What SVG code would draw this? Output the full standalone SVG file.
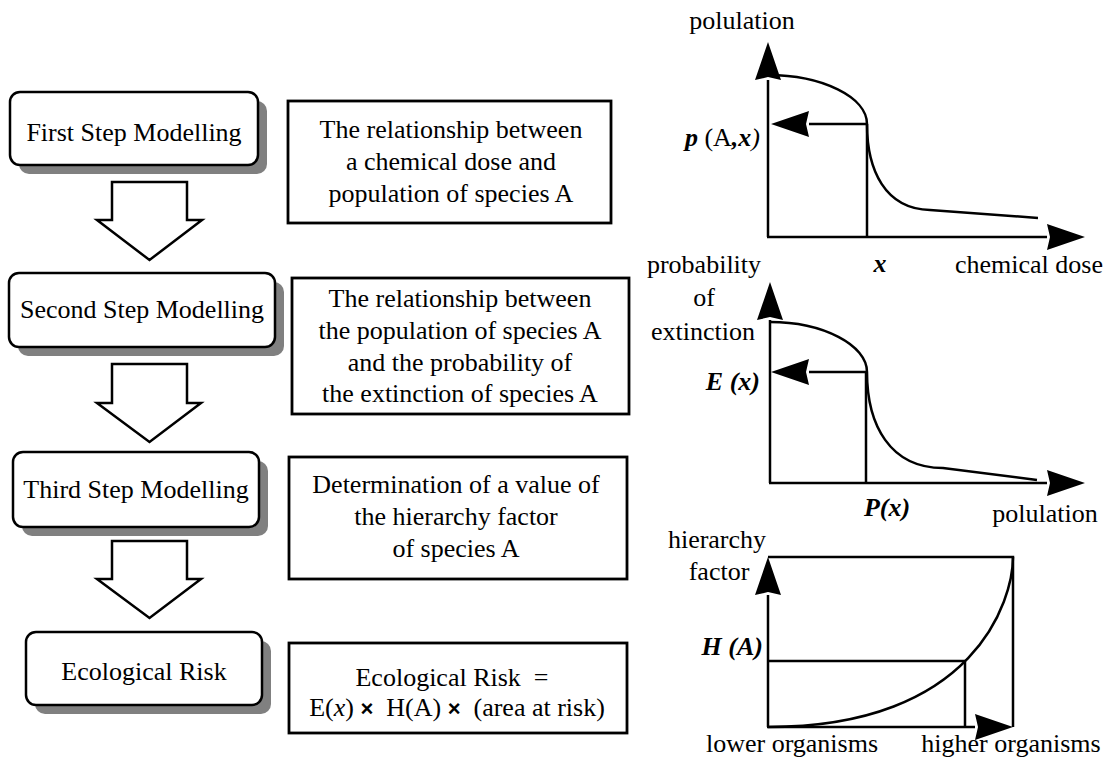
<svg xmlns="http://www.w3.org/2000/svg" width="1112" height="769" viewBox="0 0 1112 769">
<style>
.t{font-family:"Liberation Serif","Times New Roman",serif;font-size:26px;fill:#000}
.bi{font-weight:bold;font-style:italic}
.it{font-style:italic}
.node{fill:#fff;stroke:#000;stroke-width:2.5}
.shadow{fill:#808080;stroke:none}
.box{fill:#fff;stroke:#000;stroke-width:2.8}
.ln{fill:none;stroke:#000;stroke-width:2.5}
.blk{fill:#fff;stroke:#000;stroke-width:2.5;stroke-linejoin:miter}
.x{font-family:"Liberation Sans",Arial,sans-serif;font-weight:bold;font-size:22px}
</style>
<defs>
<marker id="ah" markerUnits="userSpaceOnUse" markerWidth="38" markerHeight="26" viewBox="0 0 38 26" refX="0" refY="13" orient="auto">
<path d="M0,0 L38,13 L0,26 L3,13 z" fill="#000"/>
</marker>
</defs>
<rect width="1112" height="769" fill="#fff"/>

<g id="node-first">
<rect class="shadow" x="19" y="101" width="248" height="73" rx="10"/>
<rect class="node" x="10" y="92" width="248" height="73" rx="10"/>
<text class="t" x="134" y="141" text-anchor="middle">First Step Modelling</text>
</g>
<g id="node-second">
<rect class="shadow" x="18" y="282" width="266" height="74" rx="10"/>
<rect class="node" x="9" y="273" width="266" height="74" rx="10"/>
<text class="t" x="142" y="318" text-anchor="middle">Second Step Modelling</text>
</g>
<g id="node-third">
<rect class="shadow" x="22" y="461" width="246" height="75" rx="10"/>
<rect class="node" x="13" y="452" width="246" height="75" rx="10"/>
<text class="t" x="136" y="498" text-anchor="middle">Third Step Modelling</text>
</g>
<g id="node-risk">
<rect class="shadow" x="35" y="641" width="236" height="73" rx="10"/>
<rect class="node" x="26" y="632" width="236" height="73" rx="10"/>
<text class="t" x="144" y="680" text-anchor="middle">Ecological Risk</text>
</g>

<g id="connectors">
<polygon class="blk" points="112,182 187,182 187,220 202,220 149.5,260 97,220 112,220"/>
<polygon class="blk" points="112,364 187,364 187,403 201,403 149.5,442 97,403 112,403"/>
<polygon class="blk" points="112,541 187,541 187,579 201,579 149.5,618 97,579 112,579"/>
</g>

<g id="desc-first">
<rect class="box" x="288" y="101" width="323" height="122"/>
<text class="t" x="451" y="138" text-anchor="middle">The relationship between</text>
<text class="t" x="451" y="170" text-anchor="middle">a chemical dose and</text>
<text class="t" x="451" y="202" text-anchor="middle">population of species A</text>
</g>
<g id="desc-second">
<rect class="box" x="292" y="278" width="337" height="136"/>
<text class="t" x="460" y="307" text-anchor="middle">The relationship between</text>
<text class="t" x="460" y="339" text-anchor="middle">the population of species A</text>
<text class="t" x="460" y="371" text-anchor="middle">and the probability of</text>
<text class="t" x="460" y="402" text-anchor="middle">the extinction of species A</text>
</g>
<g id="desc-third">
<rect class="box" x="289" y="457" width="338" height="122"/>
<text class="t" x="456" y="493" text-anchor="middle">Determination of a value of</text>
<text class="t" x="456" y="525" text-anchor="middle">the hierarchy factor</text>
<text class="t" x="456" y="557" text-anchor="middle">of species A</text>
</g>
<g id="desc-risk">
<rect class="box" x="289" y="643" width="338" height="90"/>
<text class="t" x="452" y="686" text-anchor="middle" xml:space="preserve">Ecological Risk  =</text>
<text class="t" x="457" y="716" text-anchor="middle" xml:space="preserve">E(<tspan class="it">x</tspan>) <tspan class="x">×</tspan>  H(A) <tspan class="x">×</tspan>  (area at risk)</text>
</g>

<g id="graph-dose">
<text class="t" x="742" y="29" text-anchor="middle">polulation</text>
<line class="ln" x1="768" y1="237" x2="768" y2="80" marker-end="url(#ah)"/>
<line class="ln" x1="767" y1="237" x2="1047" y2="237" marker-end="url(#ah)"/>
<path class="ln" d="M768,75 C822,75 867,97 867,124 C867,170 885,209 930,210 L1038,218"/>
<line class="ln" x1="867" y1="124" x2="867" y2="237"/>
<line class="ln" x1="867" y1="124" x2="809" y2="124" marker-end="url(#ah)"/>
<text class="t" x="760" y="146" text-anchor="end"><tspan class="bi">p</tspan> (A<tspan class="bi">,x</tspan><tspan class="it">)</tspan></text>
<text class="t bi" x="880" y="272" text-anchor="middle">x</text>
<text class="t" x="1029" y="273" text-anchor="middle">chemical dose</text>
</g>

<g id="graph-pop">
<text class="t" x="704" y="273" text-anchor="middle">probability</text>
<text class="t" x="704" y="306" text-anchor="middle">of</text>
<text class="t" x="703" y="340" text-anchor="middle">extinction</text>
<line class="ln" x1="770" y1="483" x2="770" y2="320" marker-end="url(#ah)"/>
<line class="ln" x1="769" y1="483" x2="1047" y2="483" marker-end="url(#ah)"/>
<path class="ln" d="M770,322 C823,322 867,345 867,372 C867,425 890,468 943,468 L1037,480"/>
<line class="ln" x1="866" y1="372" x2="866" y2="483"/>
<line class="ln" x1="866" y1="372" x2="809" y2="372" marker-end="url(#ah)"/>
<text class="t bi" x="760" y="390" text-anchor="end">E (x)</text>
<text class="t bi" x="887" y="516" text-anchor="middle">P(x)</text>
<text class="t" x="1045" y="522" text-anchor="middle">polulation</text>
</g>

<g id="graph-hier">
<text class="t" x="717" y="548" text-anchor="middle">hierarchy</text>
<text class="t" x="719" y="580" text-anchor="middle">factor</text>
<line class="ln" x1="768" y1="727" x2="768" y2="595" marker-end="url(#ah)"/>
<polyline class="ln" points="768,557 1013,557 1013,727"/>
<line class="ln" x1="767" y1="727" x2="975" y2="727" marker-end="url(#ah)"/>
<path class="ln" d="M768,727 C975,727 1013,600 1013,557"/>
<polyline class="ln" points="768,661 965,661 965,727"/>
<text class="t bi" x="763" y="655" text-anchor="end">H (A)</text>
<text class="t" x="792" y="752" text-anchor="middle">lower organisms</text>
<text class="t" x="1011" y="752" text-anchor="middle">higher organisms</text>
</g>
</svg>
